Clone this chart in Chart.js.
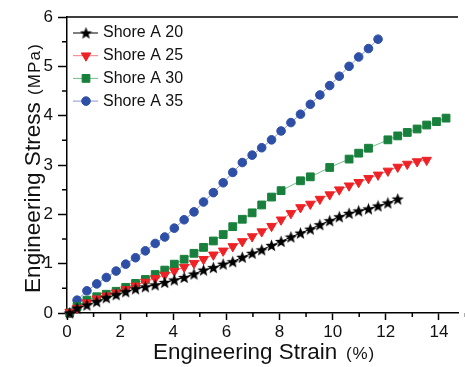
<!DOCTYPE html>
<html>
<head>
<meta charset="utf-8">
<script src="https://cdn.jsdelivr.net/npm/chart.js@4"></script>
<style>
  html, body { margin: 0; padding: 0; background: #fff; }
</style>
</head>
<body>
<canvas id="myChart" width="465" height="367"></canvas>
<script>
// strain (%) shared by all curves
const strain = [0.1, 0.38, 0.75, 1.12, 1.48, 1.85, 2.21, 2.58, 2.95, 3.32,
    3.68, 4.04, 4.41, 4.78, 5.14, 5.51, 5.88, 6.24, 6.6, 6.97,
    7.33, 7.7, 8.06, 8.43, 8.79, 9.16, 9.52, 9.89, 10.25, 10.62,
    10.98, 11.35, 11.71, 12.08, 12.45, 12.81, 13.18, 13.54, 13.91, 14.27];

// stress (MPa), null = no marker drawn there
const shoreA20 = [0, 0.10, 0.16, 0.23, 0.31, 0.37, 0.43, 0.49, 0.53, 0.57,
    0.62, 0.67, 0.72, 0.79, 0.87, 0.92, 0.99, 1.04, 1.13, 1.21,
    1.28, 1.37, 1.45, 1.54, 1.62, 1.70, 1.79, 1.87, 1.95, 2.02,
    2.07, 2.11, 2.17, 2.23, 2.31];
const shoreA25 = [0.02, 0.10, 0.21, 0.29, 0.35, 0.41, 0.48, 0.55, 0.63, 0.70,
    0.77, 0.85, 0.93, 1.01, 1.09, 1.18, 1.26, 1.35, 1.45, 1.55,
    1.65, 1.76, 1.89, 2.02, 2.14, 2.21, 2.31, 2.40, 2.50, 2.58,
    2.65, 2.73, 2.80, 2.88, 2.96, 3.02, 3.07, 3.10];
const shoreA30 = [0, 0.13, 0.26, 0.33, 0.38, 0.44, 0.52, 0.60, 0.68, 0.78,
    0.87, 0.99, 1.09, 1.21, 1.33, 1.46, 1.59, 1.75, 1.90, 2.03,
    2.19, 2.35, 2.48, null, 2.68, 2.76, null, 2.95, null, 3.12,
    3.24, 3.34, null, 3.51, 3.59, 3.66, 3.73, 3.81, 3.88, 3.95];
const shoreA35 = [0, 0.26, 0.45, 0.59, 0.72, 0.85, 0.99, 1.12, 1.26, 1.41,
    1.54, 1.72, 1.89, 2.05, 2.25, 2.44, 2.64, 2.85, 3.05, 3.20,
    3.35, 3.51, 3.69, 3.86, 4.03, 4.23, 4.42, 4.61, 4.80, 5.00,
    5.19, 5.36, 5.55];

const seriesNames = ['Shore A 20', 'Shore A 25', 'Shore A 30', 'Shore A 35'];
const xTickValues = [0, 2, 4, 6, 8, 10, 12, 14];
const yTickValues = [0, 1, 2, 3, 4, 5, 6];
const xTitle = 'Engineering Strain';
const xUnit = '(%)';
const yTitle = 'Engineering Stress';
const yUnit = '(MPa)';

const fontFamily = '"Liberation Sans", Arial, sans-serif';

// filled five point star for the Shore A 20 markers
function makeStar(size, color) {
    const c = document.createElement('canvas');
    c.width = size;
    c.height = size;
    const ctx = c.getContext('2d');
    const cx = size / 2, cy = size / 2 + 0.5;
    const ro = size / 2, ri = ro * 0.42;
    ctx.beginPath();
    for (let i = 0; i < 10; i++) {
        const r = i % 2 === 0 ? ro : ri;
        const a = -Math.PI / 2 + i * Math.PI / 5;
        ctx.lineTo(cx + r * Math.cos(a), cy + r * Math.sin(a));
    }
    ctx.closePath();
    ctx.fillStyle = color;
    ctx.fill();
    return c;
}
const starImg = makeStar(13, '#000');

function pts(arr) {
    return arr.map((v, i) => ({ x: strain[i], y: v }));
}

const data = {
    datasets: [{
        label: seriesNames[0],
        data: pts(shoreA20),
        borderColor: '#000000',
        backgroundColor: '#000000',
        pointStyle: starImg,
        pointRadius: 6
    },
    {
        label: seriesNames[1],
        data: pts(shoreA25),
        borderColor: '#f27a7a',
        backgroundColor: '#ee2226',
        pointBorderColor: '#ee2226',
        pointStyle: 'triangle',
        rotation: 180,
        pointRadius: 5.5
    },
    {
        label: seriesNames[2],
        data: pts(shoreA30),
        borderColor: '#6fbf86',
        backgroundColor: '#18803c',
        pointBorderColor: '#18803c',
        pointStyle: 'rect',
        pointRadius: 5.5
    },
    {
        label: seriesNames[3],
        data: pts(shoreA35),
        borderColor: '#8796d2',
        backgroundColor: '#2e4fa6',
        pointBorderColor: '#2e4fa6',
        pointStyle: 'circle',
        pointRadius: 4.3
    }]
};

// minor ticks, top frame line, legend and two-size axis titles
const extras = {
    id: 'extras',
    afterDraw(chart) {
        const ctx = chart.ctx;
        const area = chart.chartArea;
        const xs = chart.scales.x, ys = chart.scales.y;
        ctx.save();
        ctx.strokeStyle = '#000';
        ctx.lineWidth = 1.5;
        ctx.beginPath();
        for (let i = 0; i < xTickValues.length; i++) {
            const px = xs.getPixelForValue(xTickValues[i] + 1);
            ctx.moveTo(px, area.bottom);
            ctx.lineTo(px, area.bottom + 4);
        }
        for (let i = 0; i < yTickValues.length - 1; i++) {
            const py = ys.getPixelForValue(yTickValues[i] + 0.5);
            ctx.moveTo(area.left, py);
            ctx.lineTo(area.left - 5, py);
        }
        ctx.moveTo(area.left - 0.75, area.top);
        ctx.lineTo(area.right, area.top);
        ctx.stroke();

        // legend
        ctx.font = '16px ' + fontFamily;
        ctx.textBaseline = 'middle';
        ctx.textAlign = 'left';
        chart.data.datasets.forEach((ds, i) => {
            const y = 33 + i * 22.7;
            ctx.strokeStyle = ds.borderColor;
            ctx.lineWidth = 1;
            ctx.beginPath();
            ctx.moveTo(73, y);
            ctx.lineTo(98, y);
            ctx.stroke();
            const meta = chart.getDatasetMeta(i);
            const o = meta.data[0].options;
            ctx.fillStyle = o.backgroundColor;
            ctx.strokeStyle = o.borderColor;
            Chart.helpers.drawPoint(ctx, {
                pointStyle: o.pointStyle,
                rotation: o.rotation,
                radius: o.radius,
                borderWidth: o.borderWidth
            }, 86, y);
            ctx.fillStyle = '#111';
            ctx.fillText(ds.label, 103, y);
        });

        // axis titles: big name, smaller unit
        ctx.fillStyle = '#111';
        ctx.textBaseline = 'alphabetic';
        const fit = (text, size, width) => {
            ctx.font = size + 'px ' + fontFamily;
            ctx.letterSpacing = '0px';
            if (!width) return;
            const w = ctx.measureText(text).width;
            ctx.letterSpacing = Math.max(0, (width - w) / text.length) + 'px';
        };
        fit(xTitle, 22.4);
        ctx.fillText(xTitle, 153, 359);
        fit(xUnit, 17, 29);
        ctx.fillText(xUnit, 346, 359);

        ctx.translate(39.5, 293);
        ctx.rotate(-Math.PI / 2);
        fit(yTitle, 22.6);
        ctx.fillText(yTitle, 0, 0);
        fit(yUnit, 17, 52);
        ctx.fillText(yUnit, 198, 0);
        ctx.restore();
    }
};

const config = {
    type: 'line',
    data: data,
    plugins: [extras],
    options: {
        responsive: false,
        devicePixelRatio: 1,
        animation: false,
        layout: { padding: { top: 17, right: 0, left: 0, bottom: 0 } },
        datasets: {
            line: {
                borderWidth: 1,
                pointBorderWidth: 1,
                spanGaps: true,
                clip: false,
                tension: 0
            }
        },
        plugins: {
            legend: { display: false },
            tooltip: { enabled: false }
        },
        scales: {
            x: {
                type: 'linear',
                min: 0,
                max: 14.72,
                afterFit(s) { s.height = 54; },
                afterBuildTicks(s) {
                    s.ticks = xTickValues.map(v => ({ value: v }));
                },
                border: { color: '#000', width: 1.5 },
                grid: {
                    drawOnChartArea: false,
                    tickLength: 7,
                    tickColor: '#000',
                    tickWidth: 1.5
                },
                ticks: {
                    padding: 2,
                    maxRotation: 0,
                    autoSkip: false,
                    color: '#111',
                    font: { family: fontFamily, size: 17 }
                }
            },
            y: {
                min: 0,
                max: 6,
                afterFit(s) { s.width = 67; },
                afterBuildTicks(s) {
                    s.ticks = yTickValues.map(v => ({ value: v }));
                },
                border: { color: '#000', width: 1.5 },
                grid: {
                    drawOnChartArea: false,
                    tickLength: 9,
                    tickColor: '#000',
                    tickWidth: 1.5
                },
                ticks: {
                    padding: 5,
                    color: '#111',
                    font: { family: fontFamily, size: 17 }
                }
            }
        }
    }
};

const myChart = new Chart(
    document.getElementById('myChart'),
    config
);
</script>
</body>
</html>
